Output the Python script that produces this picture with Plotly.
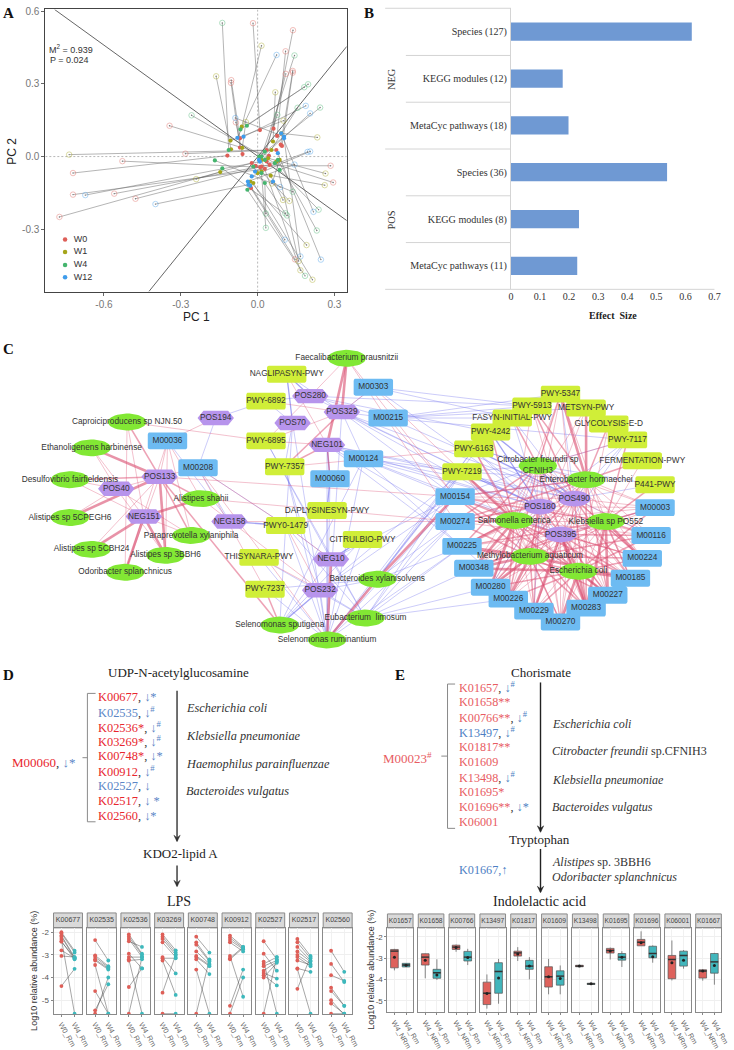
import numpy as np
import plotly.graph_objects as go

W, H = 734, 1050
SERIF = "Liberation Serif"
SANS = "Liberation Sans"

# ---------- Panel A data ----------
w0_open_x = [-0.018,0.138,0.109,0.137,0.137,0.110,-0.103,-0.104,-0.085,-0.344,-0.282,-0.528,0.285,-0.721,0.295,-0.721,-0.560,-0.477,-0.774,0.146]
w0_open_y = [0.550,0.521,0.434,0.353,0.346,0.341,0.315,0.304,0.141,0.127,0.012,-0.019,-0.038,-0.068,-0.107,-0.157,-0.153,-0.174,-0.249,-0.424]
w0_fill_x = [0.009,0.062,0.076,0.090,0.095,0.035,-0.069,-0.069,-0.059,0.044,0.073,0.010,-0.008,-0.118,0.035,0.028,0.047,0.015,-0.023,-0.026]
w0_fill_y = [0.109,0.115,0.085,0.049,0.044,0.027,0.075,0.037,0.010,0.003,0.027,-0.044,-0.038,0.004,-0.020,-0.051,-0.034,-0.041,-0.027,-0.130]
w1_open_x = [0.015,-0.162,0.069,-0.046,0.101,0.233,-0.736,0.265,0.262,-0.240,0.056,0.099,0.124,0.191,0.160,0.167,0.214]
w1_open_y = [0.457,0.331,0.265,0.142,0.148,0.079,0.008,-0.070,-0.118,-0.093,-0.111,-0.179,-0.183,-0.365,-0.431,-0.469,-0.508]
w1_fill_x = [-0.062,-0.104,0.060,-0.060,-0.106,0.092,0.054,0.041,0.000,-0.146,0.086,0.051,0.015,-0.029,0.073,0.015,-0.017]
w1_fill_y = [0.123,0.030,0.062,0.036,0.066,0.096,0.027,-0.007,-0.068,-0.064,-0.014,-0.079,-0.062,-0.103,-0.021,-0.014,-0.109]
w4_open_x = [-0.138,0.144,0.197,0.182,0.244,0.156,-0.258,0.077,0.137,0.238,0.032,0.108,0.115,0.032,0.231,0.185]
w4_open_y = [0.551,0.417,0.298,0.286,0.202,0.201,0.170,0.172,-0.145,-0.219,-0.235,-0.234,-0.243,-0.294,-0.305,-0.492]
w4_fill_x = [-0.113,0.015,-0.042,-0.067,0.006,0.028,0.067,0.028,-0.167,0.086,0.028,-0.017,-0.138,0.015,0.079,-0.040]
w4_fill_y = [0.027,0.000,0.127,0.112,0.000,-0.014,-0.027,0.020,-0.016,-0.055,-0.109,-0.041,-0.049,-0.068,-0.014,-0.137]
w12_open_x = [0.074,0.188,0.205,-0.087,0.195,0.205,0.144,-0.673,0.088,-0.399,0.218,0.106,0.167,0.247]
w12_open_y = [0.419,0.209,0.178,0.159,0.019,0.021,-0.033,-0.159,-0.126,-0.196,-0.228,-0.343,-0.412,-0.425]
w12_fill_x = [-0.079,-0.055,0.005,0.103,-0.010,-0.023,-0.038,0.009,0.060,-0.036,0.092,-0.029,0.103,0.079]
w12_fill_y = [0.077,0.082,-0.014,0.082,-0.062,-0.082,-0.103,-0.021,-0.103,-0.116,0.096,-0.120,0.075,0.014]
groups_a = ["W0", "W1", "W4", "W12"]
colors_a = ["#DE5F58", "#A5A51A", "#45B56E", "#3F9CEB"]
rda_line_1_x, rda_line_1_y = [-0.793, 0.348], [0.6065, -0.264]
rda_line_2_x, rda_line_2_y = [-0.425, 0.348], [-0.557, 0.454]

# ---------- Panel B data ----------
b_labels = ["Species (127)", "KEGG modules (12)", "MetaCyc pathways (18)", "Species (36)", "KEGG modules (8)", "MetaCyc pathways (11)"]
b_values = [0.622, 0.178, 0.198, 0.537, 0.234, 0.228]

# ---------- Panel C data ----------
species = {
 "Faec": ("Faecalibacterium prausnitzii", 350, 356), "Capr": ("Caproiciproducens sp NJN.50", 127, 420),
 "Etha": ("Ethanoligenens harbinense", 91, 446), "Desu": ("Desulfovibrio fairfieldensis", 69, 478),
 "A5CP": ("Alistipes sp 5CPEGH6", 69, 516), "Asha": ("Alistipes shahii", 202, 497),
 "Para": ("Paraprevotella xylaniphila", 192, 534), "A5CB": ("Alistipes sp 5CBH24", 91, 548),
 "A3BB": ("Alistipes sp 3BBH6", 166, 554), "Odor": ("Odoribacter splanchnicus", 125, 571),
 "Sspu": ("Selenomonas sputigena", 282, 624), "Srum": ("Selenomonas ruminantium", 330, 639),
 "Elim": ("Eubacterium  limosum", 369, 617), "Bxyl": ("Bacteroides xylanisolvens", 381, 578),
 "Cfre": ("Citrobacter freundii sp<br>CFNIH3", 544, 464), "Ehor": ("Enterobacter hormaechei", 593, 478),
 "Sent": ("Salmonella enterica", 520, 519), "Kleb": ("Klebsiella sp PO552", 613, 520),
 "Maqu": ("Methylobacterium aquaticum", 536, 555), "Ecol": ("Escherichia coli", 585, 570),
}
hexes = {
 "POS194": (217,416), "POS133": (160,475), "POS40": (116,487), "NEG151": (144,515), "NEG158": (231,520),
 "POS280": (313,394), "POS329": (345,410), "POS70": (295,421), "NEG101": (330,443), "NEG10": (334,558),
 "POS232": (323,589),
}
round_purple = {"POS180": (546,505), "POS490": (581,497), "POS395": (567,533)}
modules = {
 "M00036": (168,439), "M00208": (199,466), "M00060": (333,477), "M00303": (377,385), "M00215": (392,416),
 "M00124": (367,457), "M00154": (460,495), "M00274": (460,520), "M00225": (467,545), "M00348": (479,567),
 "M00280": (496,586), "M00226": (514,598), "M00229": (540,610), "M00270": (567,621), "M00283": (593,607),
 "M00227": (615,594), "M00185": (638,577), "M00224": (650,557), "M00116": (659,534), "M00003": (663,506),
}
pathways = {
 "NAGLIPASYN-PWY": (289,372), "PWY-6892": (268,399), "PWY-6895": (268,439), "PWY-7357": (287,465),
 "DAPLYSINESYN-PWY": (330,509), "PWY0-1479": (288,524), "CITRULBIO-PWY": (366,538), "THISYNARA-PWY": (261,556),
 "PWY-7237": (267,588), "PWY-5347": (567,392), "PWY-5913": (538,404), "METSYN-PWY": (593,406),
 "FASYN-INITIAL-PWY": (518,416), "PWY-4242": (496,430), "GLYCOLYSIS-E-D": (616,422), "PWY-7117": (635,438),
 "PWY-6163": (479,447), "FERMENTATION-PWY": (650,459), "PWY-7219": (467,470), "P441-PWY": (663,483),
}
red_thick = {
 "POS133": "Etha A5CP A3BB", "NEG151": "Asha A3BB A5CB Odor", "POS329": "Faec", "NEG101": "Faec",
 "Srum": "NEG10 Bxyl", "Bxyl": "M00154", "Ecol": "M00227 M00283 M00185 M00270 M00348", "Maqu": "M00348 M00280 M00226 M00185 M00225",
 "Sent": "M00225 M00348 M00280 PWY-7219", "Kleb": "M00227 M00224 M00283", "Ehor": "PWY-5347 METSYN-PWY", "POS395": "Ecol M00283 M00229",
}
red_med = {
 "POS133": "Capr Asha Para Sspu Desu", "POS329": "PWY-7357", "NEG101": "M00060 PWY-7357", "Sspu": "PWY-7237",
 "Ecol": "M00224 M00116 M00225 M00280 M00229 M00226 M00003 M00154", "Maqu": "M00229 M00270 M00283 M00227 M00224 M00274 M00154 M00116",
 "Sent": "M00274 M00226 M00283 M00227 M00154 M00224 M00185 PWY-6163 PWY-4242", "Kleb": "M00116 M00003 M00185 M00154 M00348 M00225 PWY-7117 P441-PWY",
 "Ehor": "M00227 M00283 M00154 M00274 M00280 PWY-5913 GLYCOLYSIS-E-D FERMENTATION-PWY", "Cfre": "M00225 M00274 PWY-5347 M00283 M00226 FASYN-INITIAL-PWY",
 "POS180": "M00274 M00227 Maqu", "POS490": "M00185 M00224 M00283 PWY-5913", "POS395": "M00348 M00185 M00116",
}
red_thin = {
 "POS133": "M00036 M00208 Odor A5CB POS40 M00154", "POS40": "Desu A5CP Etha A3BB Para", "M00036": "A3BB Odor POS194 Asha Para", "NEG151": "Capr Etha Para Desu",
 "M00208": "PWY0-1479 PWY-7237 Srum", "Capr": "PWY-6895 Odor", "POS280": "Faec PWY-6895", "POS329": "PWY-6895 M00303 PWY-6892", "NEG101": "PWY-6895 NAGLIPASYN-PWY",
 "Faec": "M00154 M00274", "PWY-7357": "PWY-6163", "PWY0-1479": "NEG10 POS232", "NEG158": "M00274", "Asha": "M00274 POS232",
 "M00215": "M00154", "M00303": "PWY-7219", "THISYNARA-PWY": "POS232",
 "Cfre": "M00116 M00003 M00185 M00224 PWY-7117 M00348 M00280 M00229 M00270 M00227", "Sent": "PWY-5913 METSYN-PWY PWY-7219 PWY-5347 M00003 M00116 M00229 M00270",
 "Maqu": "PWY-7219 PWY-6163 METSYN-PWY PWY-5347 M00003", "Ecol": "PWY-5913 PWY-7219 GLYCOLYSIS-E-D PWY-5347", "Kleb": "PWY-5347 M00274 M00280 M00226 M00229 M00270 FERMENTATION-PWY",
 "POS180": "M00154 M00225 M00348 M00280 M00226 M00229 M00270 M00283 M00185 M00224 M00116 M00003",
 "POS490": "M00154 M00274 M00225 M00348 M00280 M00226 M00229 M00270 M00227 M00116 M00003",
 "POS395": "M00154 M00274 M00225 M00280 M00226 M00270 M00227 M00224 M00003",
 "Ehor": "M00225 M00348 M00226 M00229 M00270 M00185 M00224 M00116 M00003",
}
blue_med = {"NEG158": "PWY0-1479", "Sspu": "POS232", "POS280": "NAGLIPASYN-PWY", "POS70": "NAGLIPASYN-PWY", "NEG10": "CITRULBIO-PWY",
            "M00060": "NEG101 DAPLYSINESYN-PWY", "POS490": "PWY-6163 PWY-4242", "POS180": "PWY-7219 PWY-4242"}
blue_thin = {
 "POS194": "PWY-6892 M00208", "POS70": "PWY-6892 PWY0-1479 PWY-7357 Srum", "POS329": "NAGLIPASYN-PWY M00215 M00303 M00124 POS180 POS490 POS395 M00154 Srum",
 "NEG101": "POS180 POS490 POS395 M00154 M00274 M00225 PWY-7219 Srum", "POS280": "PWY-6892 M00215 POS180 PWY-5913 PWY-4242",
 "Srum": "POS232 PWY0-1479 PWY-7357 PWY-7237 M00060 M00124 DAPLYSINESYN-PWY THISYNARA-PWY CITRULBIO-PWY M00154 M00274 M00225 PWY-7219 PWY-6163",
 "Elim": "POS232 NEG10 M00154 M00274 M00225 M00280 M00348 PWY-7219 PWY0-1479 PWY-6895 THISYNARA-PWY M00226", "Sspu": "NEG10 CITRULBIO-PWY PWY0-1479 M00124",
 "Bxyl": "M00274 M00225 PWY-6163 PWY-4242 PWY-7237 POS232 PWY-7219", "POS232": "PWY-7219 M00154 PWY-7357", "NEG10": "PWY0-1479 M00154 PWY-6895",
 "M00215": "PWY-5347 PWY-5913 FASYN-INITIAL-PWY PWY-7117 POS490 METSYN-PWY", "M00303": "PWY-5913 FASYN-INITIAL-PWY POS180", "M00124": "PWY-7219 M00229 POS180 POS490",
 "POS490": "PWY-7117 P441-PWY PWY-5347 M00116 FASYN-INITIAL-PWY", "POS180": "FASYN-INITIAL-PWY PWY-7117 M00280 M00229 PWY-6163", "POS395": "PWY-7117 PWY-6163 M00003 M00154",
 "Cfre": "PWY-6163 PWY-7219 M00154 P441-PWY PWY-7117", "M00036": "NEG158", "M00208": "NEG158 PWY0-1479", "Ehor": "PWY-7219 PWY-6163 M00154",
}

# ---------- Panel D data ----------
d_names = ["K00677","K02535","K02536","K03269","K00748","K00912","K02527","K02517","K02560"]
d_w0 = [
 [-2.0,-2.05,-2.15,-2.2,-2.3,-2.4,-2.42,-2.8,-3.05,-4.38],
 [-2.35,-3.02,-3.1,-3.2,-3.25,-3.45,-4.6,-5.45,-5.6],
 [-2.1,-2.2,-2.3,-2.4,-2.95,-3.1,-3.2,-3.25,-4.42,-5.6],
 [-2.1,-2.2,-2.3,-2.45,-3.1,-3.15,-3.25,-4.67,-5.6],
 [-2.2,-2.45,-2.55,-2.85,-3.05,-3.1,-3.2,-3.65,-5.6],
 [-2.15,-2.25,-2.35,-2.45,-3.05,-3.15,-3.2,-5.25,-5.6],
 [-2.4,-2.95,-3.3,-3.4,-3.5,-3.7,-3.8,-3.9,-4.0,-5.6],
 [-2.3,-2.45,-2.65,-2.85,-3.0,-3.1,-3.25,-3.6,-3.62,-4.5],
 [-2.82,-3.4,-3.9,-4.45,-4.6,-5.0,-5.15,-5.6],
]
d_w4 = [
 [-2.82,-2.9,-3.1,-3.15,-5.6,-3.2,-3.12,-3.15,-3.1,-3.62],
 [-3.25,-3.5,-3.55,-3.6,-3.65,-5.6,-5.6,-4.3,-4.0],
 [-2.95,-3.0,-3.1,-2.65,-3.6,-3.1,-5.6,-3.2,-3.6,-3.1],
 [-2.8,-2.9,-3.0,-3.1,-3.82,-3.15,-4.77,-3.0,-5.6],
 [-2.9,-3.25,-3.3,-3.4,-3.45,-3.5,-3.85,-5.6,-3.2],
 [-2.65,-2.7,-2.75,-2.85,-4.85,-2.65,-2.7,-3.65,-4.0],
 [-3.2,-3.7,-5.6,-3.1,-3.25,-3.3,-4.05,-4.35,-3.35,-3.1],
 [-3.05,-3.15,-3.25,-3.3,-3.4,-3.5,-3.45,-3.75,-5.6,-3.1],
 [-3.75,-4.2,-4.15,-5.25,-5.25,-5.65,-5.6,-5.6],
]
# ---------- Panel E data ----------
e_names = ["K01657","K01658","K00766","K13497","K01817","K01609","K13498","K01695","K01696","K06001","K01667"]
e_nrm_q1 = [-3.45,-3.32,-2.59,-5.17,-2.90,-4.35,-3.40,-2.76,-2.42,-3.96,-3.93]
e_nrm_med = [-2.67,-2.95,-2.48,-4.64,-2.75,-3.87,-3.37,-2.64,-2.25,-3.06,-3.60]
e_nrm_q3 = [-2.59,-2.79,-2.39,-4.12,-2.67,-3.40,-3.33,-2.54,-2.12,-2.87,-3.54]
e_nrm_lo = [-3.57,-3.94,-2.70,-5.36,-3.13,-4.69,-3.40,-3.06,-2.42,-4.04,-4.05]
e_nrm_hi = [-2.56,-2.78,-2.36,-3.76,-2.48,-3.03,-3.33,-2.50,-1.74,-2.17,-3.54]
e_nrm_mean = [-2.95,-3.10,-2.50,-4.65,-2.80,-3.87,-3.37,-2.66,-2.28,-3.21,-3.60]
e_nrm_out = [[],[],[],[],[-3.41],[],[],[-2.08],[-3.07],[],[-2.87]]
e_rm_q1 = [-3.41,-3.94,-3.13,-4.64,-3.52,-4.26,-4.23,-3.09,-2.98,-3.37,-3.70]
e_rm_med = [-3.32,-3.68,-2.95,-3.62,-3.37,-3.84,-4.20,-2.95,-2.78,-2.87,-3.17]
e_rm_q3 = [-3.24,-3.52,-2.68,-3.21,-3.10,-3.59,-4.17,-2.78,-2.44,-2.67,-2.78]
e_rm_lo = [-3.41,-4.02,-3.32,-5.13,-3.99,-4.69,-4.23,-3.41,-3.21,-3.49,-4.24]
e_rm_hi = [-3.24,-3.05,-2.56,-3.03,-2.95,-3.34,-4.17,-2.67,-2.40,-2.62,-2.75]
e_rm_mean = [-3.33,-3.79,-2.97,-3.93,-3.37,-3.95,-4.20,-2.95,-2.93,-3.10,-3.34]
e_rm_out = [[-2.7,-3.7],[-4.88],[],[],[],[],[],[],[-4.74],[-4.41],[]]

d_list = [("K00677","r","↓","*"),("K02535","b","↓","#"),("K02536*","r","↓","#"),("K03269*","r","↓","#"),("K00748*","r","↓","*"),
          ("K00912","r","↓","#"),("K02527","b","↓",""),("K02517","r","↓"," *"),("K02560","r","↓","*")]
d_species = ["Escherichia coli","Klebsiella pneumoniae","Haemophilus parainfluenzae","Bacteroides vulgatus"]
e_list = [("K01657","r","↓","#"),("K01658**","r","",""),("K00766**","r","↓","#"),("K13497","b","↓","#"),("K01817**","r","",""),
          ("K01609","r","",""),("K13498","r","↓","#"),("K01695*","r","",""),("K01696**","r","↓","*"),("K06001","r","","")]
e_species = ["<i>Escherichia coli</i>","<i>Citrobacter freundii</i> sp.CFNIH3","<i>Klebsiella pneumoniae</i>","<i>Bacteroides vulgatus</i>"]

# ---------- helpers ----------
fig = go.Figure()
layout = {}
annotations, shapes = [], []
axis_count = 0

def fx(x): return x / W
def fy(y): return 1 - y / H

def new_axes(l, r, t, b, xa, ya):
    global axis_count
    axis_count += 1
    n = "" if axis_count == 1 else str(axis_count)
    layout["xaxis" + n] = dict(domain=[fx(l), fx(r)], anchor="y" + n, **xa)
    layout["yaxis" + n] = dict(domain=[fy(b), fy(t)], anchor="x" + n, **ya)
    return "x" + n, "y" + n

def note(x, y, text, size=10, family=SERIF, color="#222", anchor="left", angle=0):
    annotations.append(dict(x=fx(x), y=fy(y), xref="paper", yref="paper", text=text, showarrow=False, xanchor=anchor,
                            yanchor="middle", textangle=angle, align="left" if anchor == "left" else "center",
                            font=dict(size=size, family=family, color=color), borderpad=0, borderwidth=0))

def seg(x0, y0, x1, y1, color="#888", width=1):
    shapes.append(dict(type="line", xref="paper", yref="paper", x0=fx(x0), y0=fy(y0), x1=fx(x1), y1=fy(y1),
                       line=dict(color=color, width=width)))

def arrow(x, y0, y1, color="#333", width=1.4):
    seg(x, y0, x, y1 - 1, color, width)
    path = (f"M {fx(x-3.2)} {fy(y1-6.5)} L {fx(x)} {fy(y1)} L {fx(x+3.2)} {fy(y1-6.5)} L {fx(x)} {fy(y1-4)} Z")
    shapes.append(dict(type="path", xref="paper", yref="paper", path=path, fillcolor=color, line=dict(color=color, width=0.5)))

# ---------- Panel A ----------
ax, ay = new_axes(44, 350, 5.5, 289,
    dict(range=[-0.829, 0.348], tickvals=[-0.6,-0.3,0,0.3], ticktext=["-0.6","-0.3","0.0","0.3"], showgrid=False, zeroline=False,
         showline=True, mirror=True, linecolor="#444", linewidth=1, ticks="outside", ticklen=3, tickcolor="#666",
         tickfont=dict(size=10, family=SANS, color="#777")),
    dict(range=[-0.557, 0.6065], tickvals=[-0.3,0,0.3,0.6], ticktext=["-0.3","0.0","0.3","0.6"], showgrid=False, zeroline=False,
         showline=True, mirror=True, linecolor="#444", linewidth=1, ticks="outside", ticklen=3, tickcolor="#666",
         tickfont=dict(size=10, family=SANS, color="#777")))
for xs, ys in (([0,0],[-0.557,0.6065]), ([-0.829,0.348],[0,0])):
    fig.add_trace(go.Scatter(x=xs, y=ys, mode="lines", line=dict(color="#999", width=0.7, dash="2px,2px"), xaxis=ax, yaxis=ay, hoverinfo="skip"))
for xs, ys in ((rda_line_1_x, rda_line_1_y), (rda_line_2_x, rda_line_2_y)):
    fig.add_trace(go.Scatter(x=xs, y=ys, mode="lines", line=dict(color="#555", width=0.9), xaxis=ax, yaxis=ay, hoverinfo="skip"))
a_sets = [(w0_open_x,w0_open_y,w0_fill_x,w0_fill_y),(w1_open_x,w1_open_y,w1_fill_x,w1_fill_y),
          (w4_open_x,w4_open_y,w4_fill_x,w4_fill_y),(w12_open_x,w12_open_y,w12_fill_x,w12_fill_y)]
for (ox, oy, fx_, fy_) in a_sets:
    lx, ly = [], []
    for a, b, c, d in zip(ox, oy, fx_, fy_):
        lx += [a, c, None]; ly += [b, d, None]
    fig.add_trace(go.Scatter(x=lx, y=ly, mode="lines", line=dict(color="rgba(100,100,100,0.6)", width=0.8), xaxis=ax, yaxis=ay, hoverinfo="skip"))
for (ox, oy, fx_, fy_), c in zip(a_sets, colors_a):
    fig.add_trace(go.Scatter(x=ox, y=oy, mode="markers", marker=dict(size=5.5, color="rgba(0,0,0,0)", opacity=0.5, line=dict(color=c, width=0.8)), xaxis=ax, yaxis=ay))
    fig.add_trace(go.Scatter(x=ox, y=oy, mode="markers", marker=dict(size=1.4, color="#777"), xaxis=ax, yaxis=ay))
    fig.add_trace(go.Scatter(x=fx_, y=fy_, mode="markers", marker=dict(size=4.2, color=c), xaxis=ax, yaxis=ay))
legend_x = [-0.752] * 4
legend_y = [-0.342, -0.394, -0.447, -0.498]
for lx, ly, c, g in zip(legend_x, legend_y, colors_a, groups_a):
    fig.add_trace(go.Scatter(x=[lx], y=[ly], mode="markers+text", text=["  " + g], textposition="middle right",
                             textfont=dict(size=9, family=SANS, color="#333"), marker=dict(size=4.5, color=c), xaxis=ax, yaxis=ay))
note(70, 45.7, "M<sup>2</sup> = 0.939", 9, SANS, "#333", "center")
note(69, 56.7, "P = 0.024", 9, SANS, "#333", "center")
note(197, 314, "PC 1", 12, SANS, "#222", "center")
note(10.7, 148, "PC 2", 12, SANS, "#222", "center", -90)

# ---------- Panel B ----------
bx, by = new_axes(516.7, 723.3, 4.3, 286.7,
    dict(range=[0, 0.7], dtick=0.1, showgrid=False, zeroline=False, showline=False, ticks="", tickfont=dict(size=10, family=SERIF, color="#333")),
    dict(categoryorder="array", categoryarray=b_labels, autorange="reversed", showgrid=False, zeroline=False, showline=True, linecolor="#D4D4D4",
         linewidth=1, ticks="", ticklabelstandoff=1, tickfont=dict(size=10.1, family=SERIF, color="#333")))
fig.add_trace(go.Bar(x=b_values, y=b_labels, orientation="h", marker=dict(color="#6F99D3", line=dict(width=0)), width=0.39, xaxis=bx, yaxis=by))
for y, x0 in ((4.3,389),(51.7,410),(98.7,410),(145.7,389),(192.7,410),(239.7,410)):
    seg(x0, y, 516.7, y, "#D4D4D4", 1)
seg(389, 286.7, 723.3, 286.7, "#D4D4D4", 1)
note(395.7, 75.7, "NEG", 10.4, SERIF, "#333", "center", -90)
note(395.7, 216.7, "POS", 10.4, SERIF, "#333", "center", -90)
note(620, 313, "<b>Effect  Size</b>", 10, SERIF, "#222", "center")

# ---------- Panel C ----------
nx, ny = new_axes(0, 734, 340, 650, dict(range=[0, 734], visible=False, fixedrange=True), dict(range=[650, 340], visible=False, fixedrange=True))
pos = {k: (v[1], v[2]) for k, v in species.items()}
pos.update(hexes); pos.update(round_purple); pos.update(modules); pos.update(pathways)
def edge_trace(table, color, width):
    xs, ys = [], []
    for src, targets in table.items():
        for t in targets.split():
            xs += [pos[src][0], pos[t][0], None]
            ys += [pos[src][1], pos[t][1], None]
    fig.add_trace(go.Scatter(x=xs, y=ys, mode="lines", line=dict(color=color, width=width), xaxis=nx, yaxis=ny, hoverinfo="skip"))
edge_trace(blue_thin, "rgba(120,120,240,0.42)", 0.9)
edge_trace(blue_med, "rgba(100,100,235,0.6)", 1.3)
edge_trace(red_thin, "rgba(224,90,125,0.42)", 0.9)
edge_trace(red_med, "rgba(222,85,120,0.55)", 1.5)
edge_trace(red_thick, "rgba(218,80,115,0.62)", 2.6)

def ellipse(cx, cy, w=39, h=17):
    t = np.linspace(0, 2*np.pi, 40)
    return list(cx + w/2*np.cos(t)) + [None], list(cy + h/2*np.sin(t)) + [None]
def small_ellipse(cx, cy):
    return ellipse(cx, cy, 33, 16)
def hexagon(cx, cy, w=37, h=14.5):
    return [cx-w/2, cx-w/2+6, cx+w/2-6, cx+w/2, cx+w/2-6, cx-w/2+6, cx-w/2, None], [cy, cy-h/2, cy-h/2, cy, cy+h/2, cy+h/2, cy, None]
def rrect(cx, cy, w=40, h=17, r=2):
    px, py = [], []
    for sx, sy, a0 in ((1,-1,-90),(1,1,0),(-1,1,90),(-1,-1,180)):
        for a in np.radians(np.linspace(a0, a0+90, 5)):
            px.append(cx + sx*(w/2-r) + r*np.cos(a))
            py.append(cy + sy*(h/2-r) + r*np.sin(a))
    return px + [px[0], None], py + [py[0], None]
def node_trace(points, maker, color):
    xs, ys = [], []
    for cx, cy in points:
        a, b = maker(cx, cy); xs += a; ys += b
    fig.add_trace(go.Scatter(x=xs, y=ys, mode="lines", fill="toself", fillcolor=color, line=dict(width=0), xaxis=nx, yaxis=ny, hoverinfo="skip"))
node_trace(list(pathways.values()), rrect, "#D0EE38")
node_trace(list(modules.values()), rrect, "#6DBBF2")
node_trace([pos[k] for k in species], ellipse, "#82E834")
node_trace(list(hexes.values()), hexagon, "#B794EC")
node_trace(list(round_purple.values()), small_ellipse, "#B794EC")
purple_all = {**hexes, **round_purple}
lab_x = [v[1] for v in species.values()] + [v[0] for v in purple_all.values()] + [v[0] for v in modules.values()] + [v[0] for v in pathways.values()]
lab_y = [v[2] for v in species.values()] + [v[1] for v in purple_all.values()] + [v[1] for v in modules.values()] + [v[1] for v in pathways.values()]
lab_t = [v[0] for v in species.values()] + list(purple_all) + list(modules) + list(pathways)
fig.add_trace(go.Scatter(x=lab_x, y=lab_y, text=lab_t, mode="text", textposition="middle center",
                         textfont=dict(size=8.3, family=SANS, color="#333"), xaxis=nx, yaxis=ny, hoverinfo="skip"))

# ---------- Panels D and E pathway text ----------
RED_D, BLUE_D, RED_E, BLUE_E = "#E8262E", "#5B86C6", "#E85C62", "#4E7FC4"
def gene_line(entry, red, blue):
    name, tone, arr, mark = entry
    col = red if tone == "r" else blue
    s = f'<span style="color:{col}">{name}</span>'
    if arr:
        s += f'<span style="color:#333">, </span><span style="color:{blue}">{arr}'
        s += (f'<sup>{mark}</sup>' if mark == "#" else mark) + "</span>"
    return s
def bracket(x_in, x_out, x_tick, y0, y1, ymid):
    c = "#8A8A8A"
    seg(x_in, y0, x_out, y0, c); seg(x_out, y0, x_out, y1, c); seg(x_out, y1, x_in, y1, c); seg(x_tick, ymid, x_out, ymid, c)

note(179, 672, "UDP-N-acetylglucosamine", 13, SERIF, "#222", "center")
arrow(177.7, 690, 841.7)
note(181, 854, "KDO2-lipid A", 13, SERIF, "#222", "center")
arrow(177.7, 865.7, 887)
note(180, 901.7, "LPS", 14, SERIF, "#222", "center")
note(10, 762, f'<span style="color:{RED_D}">M00060</span><span style="color:#333">, </span><span style="color:{BLUE_D}">↓*</span>', 13)
bracket(95, 86.7, 81.7, 692.7, 821.7, 757.3)
for i, e in enumerate(d_list):
    note(97.7, 696 + 15*i, gene_line(e, RED_D, BLUE_D), 12.4)
for i, s in enumerate(d_species):
    note(187.3, [707.3,735,763.7,791][i], f"<i>{s}</i>", 12.3, SERIF, "#333")

note(546.7, 672, "Chorismate", 13, SERIF, "#222", "center")
arrow(546.7, 681.7, 832.3, "#222")
note(546, 839.3, "Tryptophan", 13, SERIF, "#222", "center")
arrow(546.7, 849, 893, "#222")
note(546, 901.7, "Indolelactic acid", 14, SERIF, "#222", "center")
note(387.3, 757.3, f'<span style="color:{RED_E}">M00023<sup>#</sup></span>', 13)
bracket(460, 452.3, 446, 683.3, 828.3, 755.7)
for i, e in enumerate(e_list):
    note(463.7, 686.7 + 15*i, gene_line(e, RED_E, BLUE_E), 12.2)
for i, s in enumerate(e_species):
    note(558.3, [723.3,751,779.3,807][i], s, 12, SERIF, "#333")
note(464.3, 870.3, f'<span style="color:{BLUE_E}">K01667,↑</span>', 12.2)
note(558.3, 862, "<i>Alistipes</i> sp. 3BBH6", 12, SERIF, "#333")
note(558.3, 877.3, "<i>Odoribacter splanchnicus</i>", 12, SERIF, "#333")

for x, y, t in ((7, 9, "A"), (373, 9, "B"), (7, 347, "C"), (7, 674, "D"), (404, 674, "E")):
    note(x, y, f"<b>{t}</b>", 15, SERIF, "#111", "center")

# ---------- Facets ----------
strip_x, strip_y, strip_t, strip_s = [], [], [], []
def strip(l, r, t, b, label, size):
    shapes.append(dict(type="rect", xref="paper", yref="paper", layer="below", x0=fx(l), x1=fx(r), y0=fy(t), y1=fy(b),
                       fillcolor="#D9D9D9", line=dict(color="#8A8A8A", width=1)))
    strip_x.append((l + r) / 2); strip_y.append((t + b) / 2); strip_t.append(label); strip_s.append(size)

def facet_axes(l, r, t, b, yrange, labels, first, tick_size):
    return new_axes(l, r, t, b,
        dict(range=[0.4, 2.6], tickvals=[1, 2], ticktext=labels, tickangle=60, showgrid=True, gridcolor="#F1F1F1", gridwidth=0.6, zeroline=False,
             showline=True, mirror=True, linecolor="#8A8A8A", linewidth=1, ticks="outside", ticklen=2, tickcolor="#888",
             tickfont=dict(size=tick_size, family=SANS, color="#666")),
        dict(range=yrange, tickvals=[-5, -4, -3, -2], ticktext=["-5", "-4", "-3", "-2"], showticklabels=first, showgrid=True, gridcolor="#EFEFEF", gridwidth=0.6,
             zeroline=False, showline=True, mirror=True, linecolor="#8A8A8A", linewidth=1, ticks="outside" if first else "", ticklen=2, tickcolor="#888",
             tickfont=dict(size=8, family=SANS, color="#555")))

for i, name in enumerate(d_names):
    l = 52.3 + 34.22 * i
    r = l + 29.4
    strip(l, r, 913.3, 928.3, name, 7.1)
    xa, ya = facet_axes(l, r, 928.3, 1015, [-5.62, -1.81], ["W0_Rm", "W4_Rm"], i == 0, 7.4)
    lx, ly = [], []
    for a, b in zip(d_w0[i], d_w4[i]):
        lx += [1, 2, None]; ly += [a, b, None]
    fig.add_trace(go.Scatter(x=lx, y=ly, mode="lines", line=dict(color="rgba(70,70,70,0.6)", width=0.8), xaxis=xa, yaxis=ya, hoverinfo="skip"))
    fig.add_trace(go.Scatter(x=[1]*len(d_w0[i]), y=d_w0[i], mode="markers", marker=dict(size=3.8, color="#DE5F58"), xaxis=xa, yaxis=ya))
    fig.add_trace(go.Scatter(x=[2]*len(d_w4[i]), y=d_w4[i], mode="markers", marker=dict(size=3.8, color="#3DB8BC"), xaxis=xa, yaxis=ya))
note(33, 972, "Log10 relative abundance (%)", 9, SANS, "#333", "center", -90)

for i, name in enumerate(e_names):
    l = 391.3 + 31.3 * i
    r = l + 26
    strip(l, r, 914.3, 928.3, name, 6.7)
    xa, ya = facet_axes(l, r, 928.3, 1013.3, [-5.54, -1.58], ["W4_NRm", "W4_Rm"], i == 0, 7.2)
    for k, (q1, med, q3, lo, hi, mean, out, col) in enumerate((
            (e_nrm_q1, e_nrm_med, e_nrm_q3, e_nrm_lo, e_nrm_hi, e_nrm_mean, e_nrm_out, "#DE625C"),
            (e_rm_q1, e_rm_med, e_rm_q3, e_rm_lo, e_rm_hi, e_rm_mean, e_rm_out, "#42B6BC"))):
        x = k + 1
        fig.add_trace(go.Box(x=[x], q1=[q1[i]], median=[med[i]], q3=[q3[i]], lowerfence=[lo[i]], upperfence=[hi[i]], width=0.66,
                             whiskerwidth=0, fillcolor=col, line=dict(color="#555", width=0.7), xaxis=xa, yaxis=ya))
        fig.add_trace(go.Scatter(x=[x-0.33, x+0.33], y=[med[i], med[i]], mode="lines", line=dict(color="#333", width=1.4), xaxis=xa, yaxis=ya))
        fig.add_trace(go.Scatter(x=[x], y=[mean[i]], mode="markers", marker=dict(size=3, color="#222"), xaxis=xa, yaxis=ya))
        if out:
            fig.add_trace(go.Scatter(x=[x]*len(out), y=out, mode="markers", marker=dict(size=2, color="#333"), xaxis=xa, yaxis=ya))
note(375, 970, "Log10 relative abundance (%)", 9, SANS, "#333", "center", -90)

# strip labels, placed on a hidden overlay axis spanning the strip band
sx, sy = new_axes(0, 734, 910, 932, dict(range=[0, 734], visible=False, fixedrange=True), dict(range=[932, 910], visible=False, fixedrange=True))
fig.add_trace(go.Scatter(x=strip_x, y=strip_y, text=strip_t, mode="text", textposition="middle center",
                         textfont=dict(size=strip_s, family=SANS, color="#444"), xaxis=sx, yaxis=sy, hoverinfo="skip"))

fig.update_layout(width=W, height=H, margin=dict(l=0, r=0, t=0, b=0), paper_bgcolor="white", plot_bgcolor="rgba(0,0,0,0)",
                  showlegend=False, boxmode="overlay", annotations=annotations, shapes=shapes, hovermode=False, **layout)
fig.write_html("out.html", config={"displayModeBar": False}, post_script="document.body.style.margin='0';")
